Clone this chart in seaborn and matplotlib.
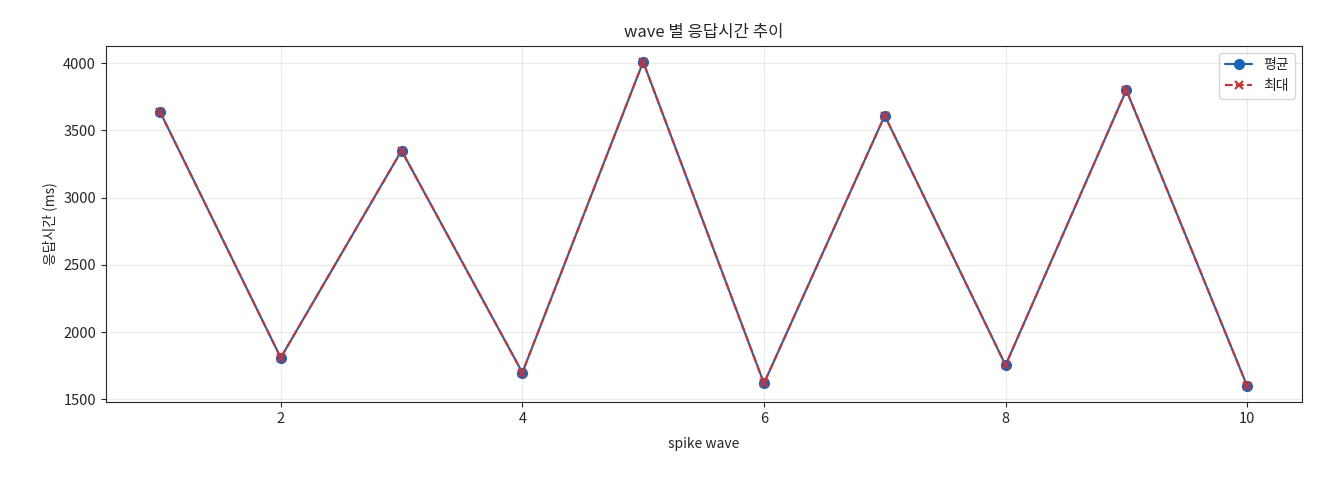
import matplotlib
matplotlib.use("Agg")
import matplotlib.pyplot as plt
import seaborn as sns
import pandas as pd

waves = [1, 2, 3, 4, 5, 6, 7, 8, 9, 10]
avg_ms = [3640, 1810, 3350, 1700, 4010, 1620, 3610, 1755, 3800, 1600]
max_ms = [3640, 1810, 3350, 1700, 4010, 1620, 3610, 1755, 3800, 1600]

sns.set_style("ticks")
plt.rcParams['font.family'] = ['Noto Sans CJK KR', 'DejaVu Sans']
plt.rcParams['axes.unicode_minus'] = False

df = pd.DataFrame({"wave": waves, "avg": avg_ms, "max": max_ms})
fig, ax = plt.subplots(figsize=(13.2, 4.8), dpi=100)
fig.subplots_adjust(left=0.08, right=0.986, top=0.905, bottom=0.162)
sns.lineplot(data=df, x="wave", y="avg", ax=ax, color="#1565c0", marker="o",
             markersize=7, markeredgecolor="#1565c0", markeredgewidth=1,
             label="평균", linewidth=1.5)
sns.lineplot(data=df, x="wave", y="max", ax=ax, color="#d32f2f", marker="x",
             markersize=6, markeredgecolor="#d32f2f", label="최대",
             linewidth=1.5, markeredgewidth=1.5)
lines = ax.get_lines()
lines[1].set_linestyle((0, (3.7, 1.6)))
ax.grid(True, alpha=0.4, color="#cccccc")
ax.set_title("wave 별 응답시간 추이", fontsize=12)
ax.set_xlabel("spike wave", fontsize=10, labelpad=8)
ax.set_ylabel("응답시간 (ms)", fontsize=10)
ax.tick_params(labelsize=10.5)
leg = ax.legend(loc="upper right")
leg.get_lines()[1].set_linestyle((0, (3.7, 1.6)))
fig.savefig("out.png")
